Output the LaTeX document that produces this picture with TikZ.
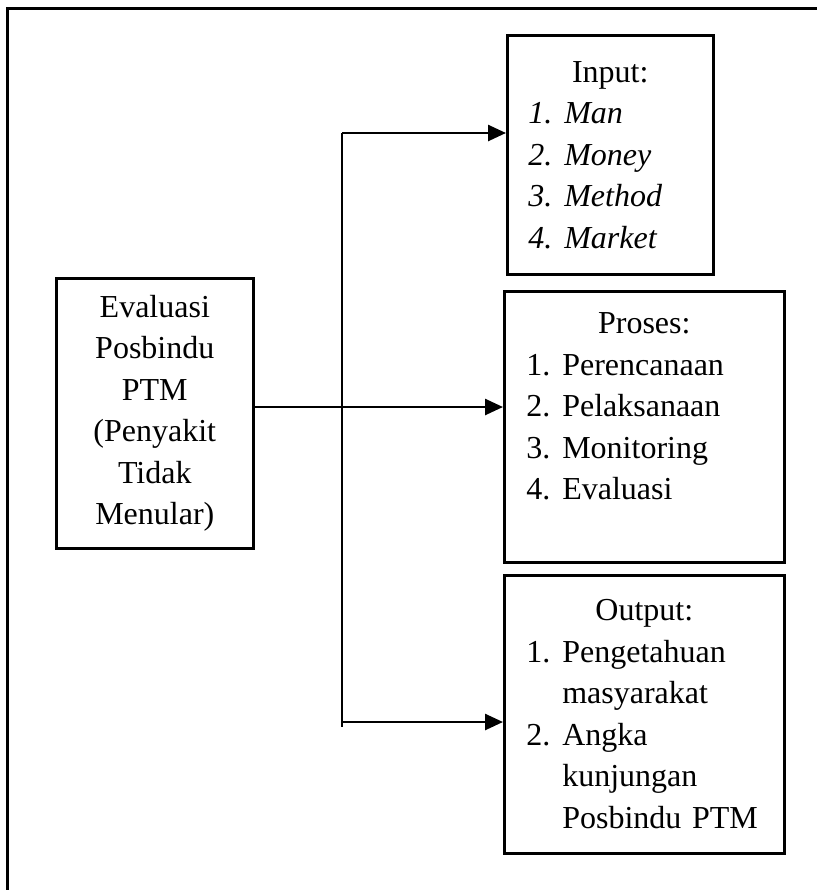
\documentclass[tikz,border=0pt]{standalone}
\usepackage{fontspec}
\setmainfont{Liberation Serif}
\usepackage{tikz}
\usetikzlibrary{arrows.meta}
\newcommand{\itm}[2]{\makebox[18pt][l]{#1}#2}
\tikzset{
  >= {Triangle[length=9pt,width=8pt]},
  bx/.style={rectangle, draw, line width=1.3pt, anchor=north west, inner ysep=0pt,
    font=\fontsize{16}{20.75}\selectfont},
  ls/.style={bx, align=left, inner xsep=#1},
  ar/.style={->, line width=1.3pt}
}
\begin{document}
\begin{tikzpicture}[x=0.5pt, y=-0.5pt]
  \useasboundingbox (0,0) rectangle (817,890);
  % frame
  \draw[line width=1.5pt] (7,890) -- (7,8) -- (817,8);

  \node[bx, align=center, text width=88.5pt, inner xsep=5pt, minimum height=135pt]
    (eval) at (55,277)
    {Evaluasi\\ Posbindu\\ PTM\\ (Penyakit\\ Tidak\\ Menular)};

  \node[ls=10.5pt, text width=82pt, minimum height=119.5pt] (input) at (506,34)
    {\centerline{Input:}
     \itshape\itm{1.}{Man}\\ \itm{2.}{Money}\\ \itm{3.}{Method}\\ \itm{4.}{Market}};

  \node[ls=11pt, text width=118pt, minimum height=135.5pt] (proses) at (503,290)
    {\centerline{Proses:}
     \itm{1.}{Perencanaan}\\ \itm{2.}{Pelaksanaan}\\ \itm{3.}{Monitoring}\\
     \itm{4.}{Evaluasi}\\ \mbox{}};

  \node[ls=11pt, text width=118pt, minimum height=139pt] (output) at (503,574)
    {\centerline{Output:}
     \itm{1.}{Pengetahuan}\\ \hspace*{18pt}masyarakat\\ \itm{2.}{Angka}\\
     \hspace*{18pt}kunjungan\\ \hspace*{18pt}Posbindu PTM};

  % branch
  \coordinate (top) at (342,133);
  \coordinate (mid) at (342,407);
  \coordinate (bot) at (342,722);
  \coordinate (end) at (342,727);
  \draw[line width=1.3pt] (top) -- (end);
  \draw[ar] (top) -- (top -| input.west);
  \draw[ar] (eval.east |- mid) -- (proses.west |- mid);
  \draw[ar] (bot) -- (bot -| output.west);
\end{tikzpicture}
\end{document}
